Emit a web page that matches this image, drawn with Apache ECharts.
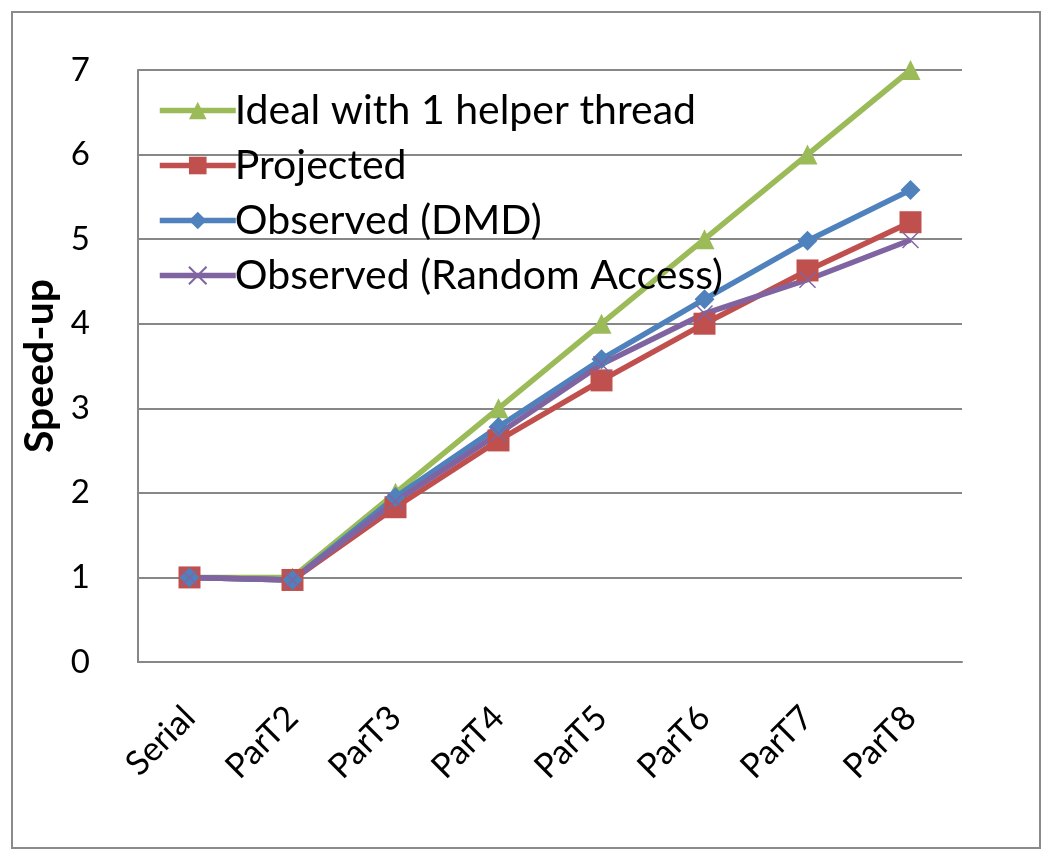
<!DOCTYPE html>
<html>
<head>
<meta charset="utf-8">
<script src="https://cdn.jsdelivr.net/npm/echarts@6/dist/echarts.min.js"></script>
<style>
html,body{margin:0;padding:0;background:#fff;}
#chart{width:1050px;height:856px;}
</style>
</head>
<body>
<div id="chart"></div>
<script>
const categories = ['Serial','ParT2','ParT3','ParT4','ParT5','ParT6','ParT7','ParT8'];
const yTicks = [0,1,2,3,4,5,6,7];
const ideal = [1, 1, 2, 3, 4, 5, 6, 7];
const projected = [1, 0.97, 1.83, 2.62, 3.33, 4.0, 4.63, 5.2];
const observedDMD = [1, 0.97, 1.95, 2.78, 3.58, 4.29, 4.98, 5.58];
const observedRandom = [1, 0.97, 1.9, 2.7, 3.52, 4.12, 4.52, 4.99];
const seriesNames = ['Ideal with 1 helper thread','Projected','Observed (DMD)','Observed (Random Access)'];

const FONT = 'Lato, "Open Sans", sans-serif';
const chart = echarts.init(document.getElementById('chart'), null, {renderer:'canvas'});

function mk(name, data, color, symbol, size, extra) {
  return Object.assign({
    name: name,
    type: 'line',
    data: data,
    symbol: symbol,
    symbolSize: size,
    lineStyle: {color: color, width: 5.5},
    itemStyle: {color: color},
    animation: false
  }, extra || {});
}

chart.setOption({
  animation: false,
  backgroundColor: '#fff',
  graphic: [{
    type: 'rect',
    shape: {x: 12, y: 12, width: 1028, height: 836},
    style: {fill: 'none', stroke: '#8a8a8a', lineWidth: 2},
    silent: true
  }],
  grid: {left: 138, right: 88, top: 70, bottom: 194, containLabel: false},
  legend: {
    orient: 'vertical',
    left: 152,
    top: 85,
    itemWidth: 76,
    itemHeight: 22,
    itemGap: 14,
    data: seriesNames,
    lineStyle: {width: 5.5},
    textStyle: {fontFamily: FONT, fontSize: 41, lineHeight: 40, color: '#000', padding: [0,0,0,-6]}
  },
  xAxis: {
    type: 'category',
    data: categories,
    boundaryGap: true,
    axisLine: {lineStyle: {color: '#878787', width: 2}},
    axisTick: {show: false},
    axisLabel: {rotate: 45, fontFamily: FONT, fontSize: 34, color: '#000', margin: 50, interval: 0}
  },
  yAxis: {
    type: 'value',
    min: yTicks[0],
    max: yTicks[yTicks.length - 1],
    interval: 1,
    name: 'Speed-up',
    nameLocation: 'middle',
    nameGap: 78,
    nameRotate: 90,
    nameTextStyle: {fontFamily: FONT, fontSize: 41, fontWeight: 'bold', color: '#000'},
    axisLine: {show: true, lineStyle: {color: '#878787', width: 2}},
    axisTick: {show: false},
    splitLine: {lineStyle: {color: '#878787', width: 2}},
    axisLabel: {fontFamily: FONT, fontSize: 33, color: '#000', margin: 48}
  },
  series: [
    mk(seriesNames[0], ideal, '#9BBB59', 'triangle', 20),
    mk(seriesNames[1], projected, '#C0504D', 'rect', 22),
    mk(seriesNames[2], observedDMD, '#4F81BD', 'diamond', 20),
    mk(seriesNames[3], observedRandom, '#8064A2', 'path://M0,0 L10,10 M10,0 L0,10', 16, {
      itemStyle: {color: '#8064A2', borderColor: '#8064A2', borderWidth: 1.5}
    })
  ]
});
</script>
</body>
</html>
